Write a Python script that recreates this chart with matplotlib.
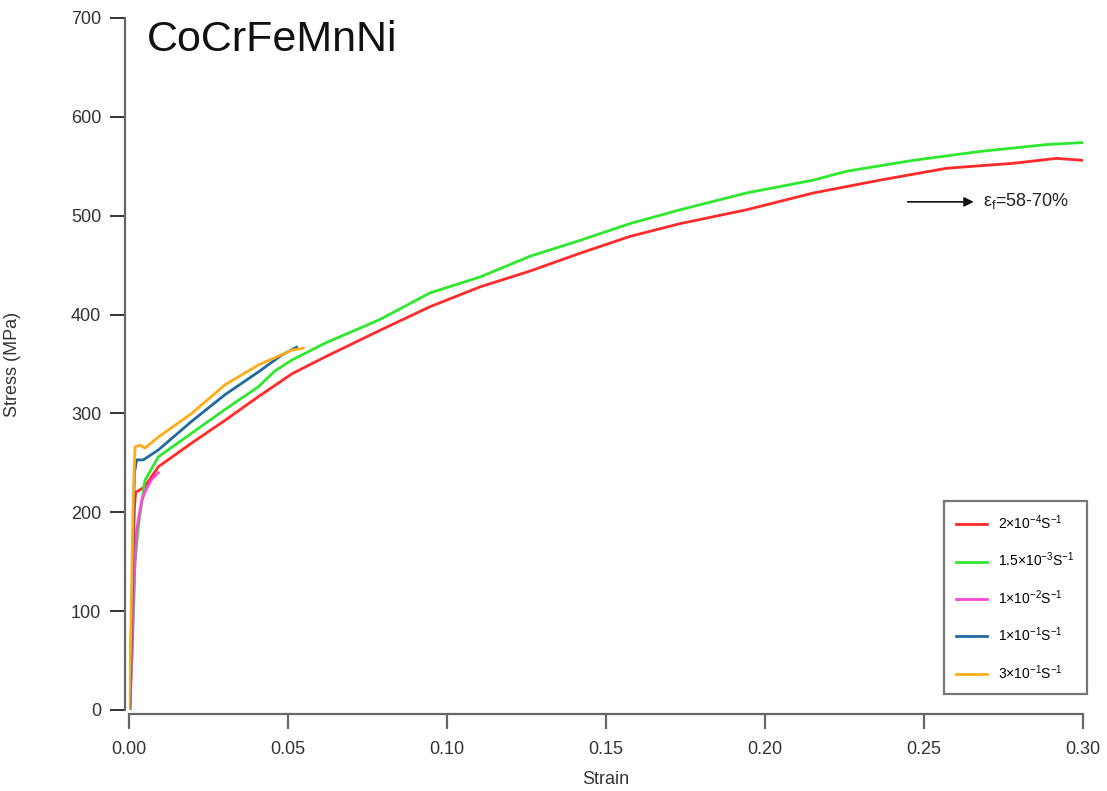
import matplotlib
matplotlib.use("Agg")
import matplotlib.pyplot as plt

plt.rcParams['font.family'] = ['Liberation Sans', 'DejaVu Sans']
plt.rcParams['mathtext.fontset'] = 'custom'
plt.rcParams['mathtext.rm'] = 'Liberation Sans'
plt.rcParams['mathtext.it'] = 'Liberation Sans:italic'

red_strain = [0.0, 0.0003, 0.0008, 0.0013, 0.0017, 0.0021, 0.005, 0.0092, 0.0197,
              0.0302, 0.0407, 0.0512, 0.0616, 0.0789, 0.0947, 0.1104, 0.1261,
              0.1418, 0.1575, 0.1733, 0.1942, 0.2152, 0.2362, 0.2571, 0.278, 0.2917, 0.300]
red_stress = [0, 0, 70, 150, 205, 220, 226, 246, 270,
              293, 317, 340, 357, 384, 408, 428, 444,
              462, 479, 492, 506, 523, 536, 548, 553, 558, 556]

green_strain = [0.0, 0.0008, 0.0014, 0.0019, 0.0027, 0.0035, 0.005, 0.0092, 0.0197, 0.0302,
                0.0407, 0.0459, 0.0512, 0.0616, 0.0789, 0.0947, 0.1104, 0.1261, 0.1418, 0.1575,
                0.1733, 0.1942, 0.2152, 0.2257, 0.2466, 0.2676, 0.2886, 0.300]
green_stress = [0, 40, 95, 148, 178, 199, 232, 256, 280, 304,
                327, 343, 354, 371, 395, 422, 438, 459, 475, 492,
                506, 523, 536, 545, 556, 565, 572, 574]

magenta_strain = [0.0003, 0.0009, 0.0014, 0.0019, 0.0024, 0.004, 0.0055, 0.0071, 0.0092]
magenta_stress = [0, 55, 115, 155, 182, 212, 224, 233, 240]

blue_strain = [0.0002, 0.001, 0.0017, 0.0024, 0.0045, 0.0092, 0.0197, 0.0302, 0.0407, 0.048, 0.0527]
blue_stress = [0, 120, 240, 253, 253, 263, 292, 319, 342, 359, 367]

orange_strain = [0.0, 0.0007, 0.0013, 0.0019, 0.0035, 0.005, 0.0092, 0.0197, 0.0302, 0.0407, 0.0512, 0.0548]
orange_stress = [0, 100, 210, 266, 268, 265, 276, 300, 329, 349, 364, 366]

labels = [r'2$\times$10$^{-4}$S$^{-1}$', r'1.5$\times$10$^{-3}$S$^{-1}$', r'1$\times$10$^{-2}$S$^{-1}$',
          r'1$\times$10$^{-1}$S$^{-1}$', r'3$\times$10$^{-1}$S$^{-1}$']
colors = ['#ff2a2a', '#2ee82e', '#ff48d8', '#1f6a9e', '#ffab1a']

x_ticks = [0.00, 0.05, 0.10, 0.15, 0.20, 0.25, 0.30]
x_ticklabels = ['0.00', '0.05', '0.10', '0.15', '0.20', '0.25', '0.30']
y_ticks = [0, 100, 200, 300, 400, 500, 600, 700]

fig = plt.figure(figsize=(11.07, 7.91), dpi=100)
ax = fig.add_axes([129/1107, 81/791, 954/1107, 692/791])

series = [(red_strain, red_stress), (green_strain, green_stress), (magenta_strain, magenta_stress),
          (blue_strain, blue_stress), (orange_strain, orange_stress)]
for (xs, ys), c, lab in zip(series, colors, labels):
    ax.plot(xs, ys, color=c, lw=2.0, label=lab)

ax.set_xlim(0, 0.30)
ax.set_ylim(0, 700)
ax.set_xticks(x_ticks)
ax.set_xticklabels(x_ticklabels)
ax.set_yticks(y_ticks)

for s in ['top', 'right']:
    ax.spines[s].set_visible(False)
for s in ['left', 'bottom']:
    ax.spines[s].set_color('#666666')
    ax.spines[s].set_linewidth(1.6)
    ax.spines[s].set_position(('outward', 3))

ax.tick_params(axis='x', direction='out', length=11, width=1.6, color='#666666',
               labelsize=13, labelcolor='#333333', pad=8)
ax.tick_params(axis='y', direction='out', length=11, width=1.2, color='#111111',
               labelsize=13, labelcolor='#333333', pad=6)

ax.set_xlabel('Strain', fontsize=13, color='#333333', labelpad=10)
ax.set_ylabel('Stress (MPa)', fontsize=13, color='#333333', labelpad=36)

fig.text(147/1107, 1 - 40/791, 'CoCrFeMnNi', fontsize=31, va='center', ha='left', color='#111111')

ax.annotate('', xy=(0.2665, 514), xytext=(0.2440, 514),
            arrowprops=dict(arrowstyle='-|>', color='#111111', lw=1.2, mutation_scale=14))
ax.text(0.2685, 515, r'ε$_\mathregular{f}$=58-70%', fontsize=13, va='center', ha='left', color='#222222')

leg = ax.legend(loc='lower right', bbox_to_anchor=(1087/1107, 97/791),
                bbox_transform=fig.transFigure, fontsize=10, frameon=True, fancybox=False,
                edgecolor='#555555', labelspacing=1.35, handlelength=2.2,
                borderpad=0.9, borderaxespad=0)
leg.get_frame().set_linewidth(1.6)

fig.savefig('out.png', dpi=100)
